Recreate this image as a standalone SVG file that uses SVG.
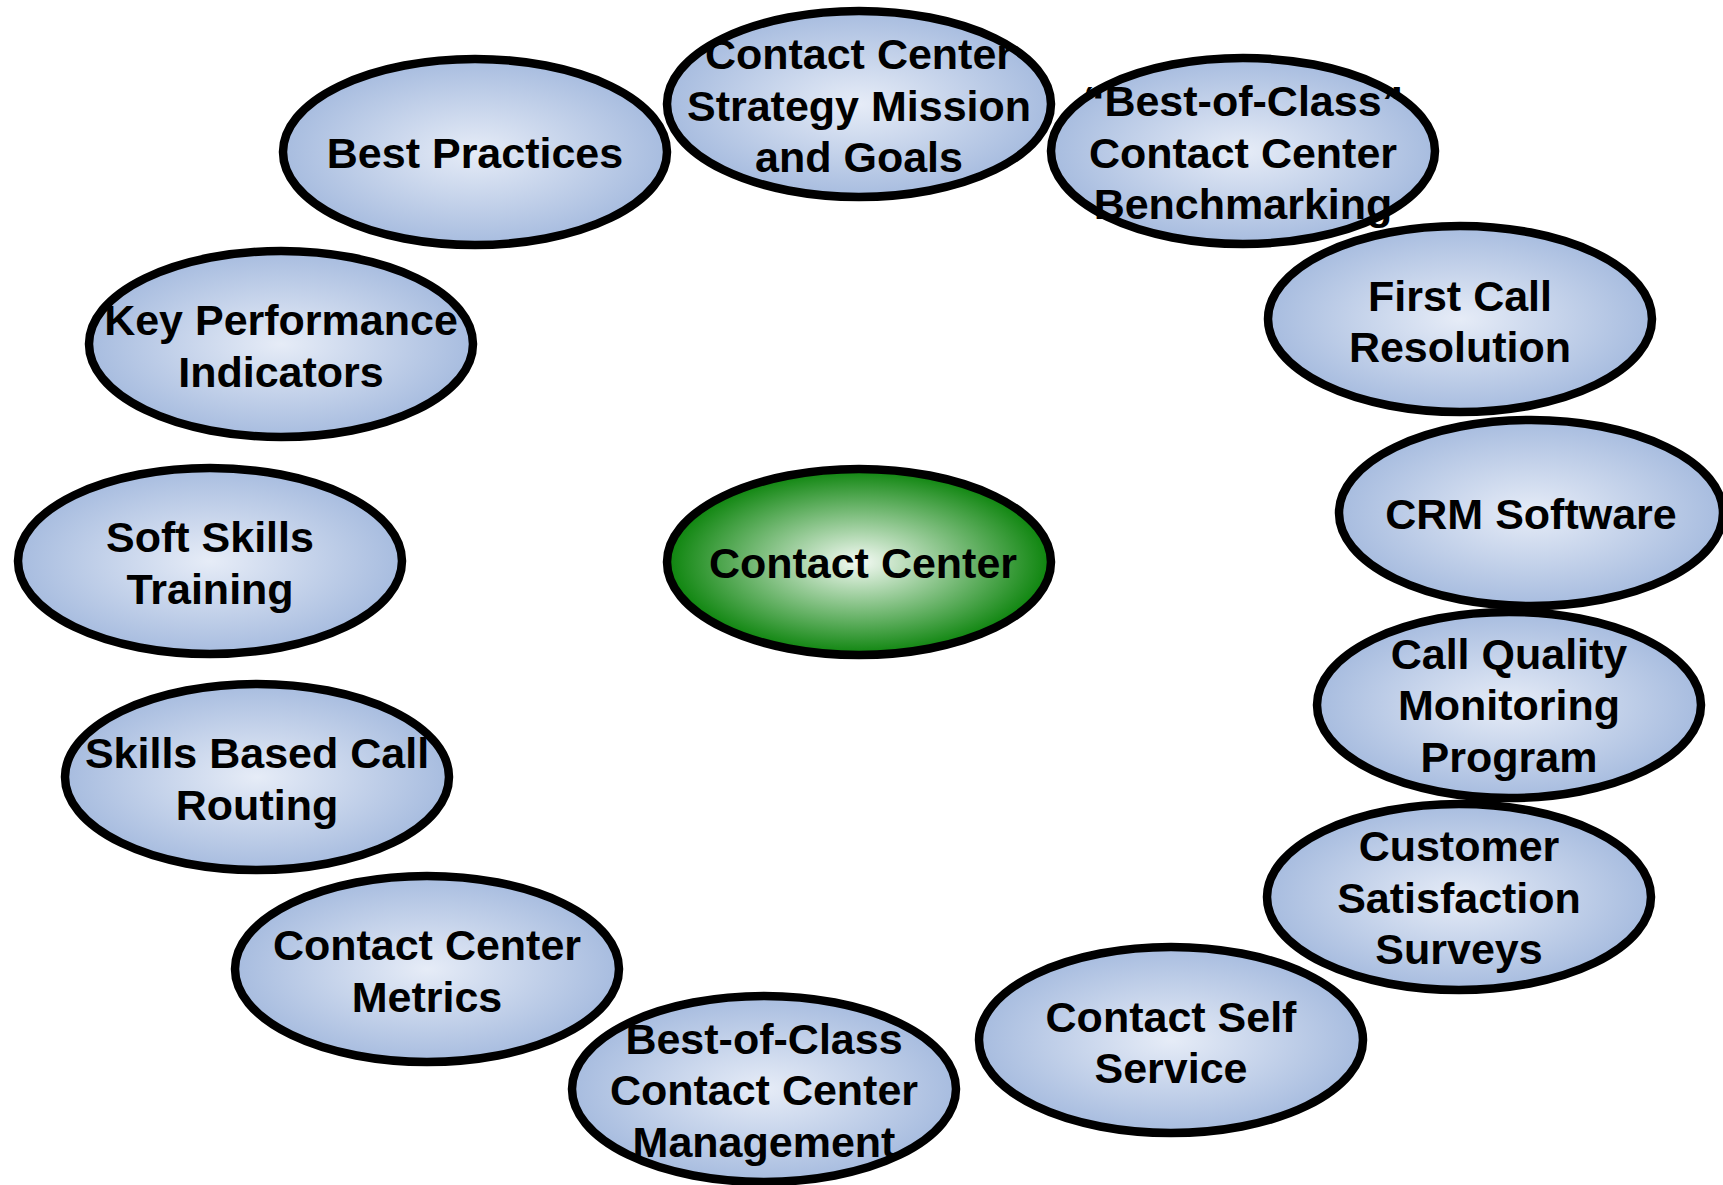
<svg xmlns="http://www.w3.org/2000/svg" width="1723" height="1185" viewBox="0 0 1723 1185">
<defs>
<radialGradient id="gBlue" cx="50%" cy="50%" r="50%">
<stop offset="0" stop-color="#e6ecf7"/>
<stop offset="1" stop-color="#a7bcdf"/>
</radialGradient>
<radialGradient id="gGreen" cx="50%" cy="50%" r="50%">
<stop offset="0" stop-color="#f4faf4"/>
<stop offset="1" stop-color="#0c840c"/>
</radialGradient>
<style>
.bf{fill:url(#gBlue);stroke:none}
.gf{fill:url(#gGreen);stroke:none}
.st{fill:none;stroke:#000;stroke-width:8.5}
text{font-family:"Liberation Sans",Arial,sans-serif;font-weight:bold;font-size:43px;fill:#000;text-anchor:middle}
</style>
</defs>
<rect width="1723" height="1185" fill="#fff"/>
<g id="connectors"/>

<g id="n-best-practices">
<ellipse class="bf" cx="475" cy="152" rx="192" ry="93"/>
<text x="475" y="168">Best Practices</text>
<ellipse class="st" cx="475" cy="152" rx="192" ry="93"/>
</g>

<g id="n-strategy">
<ellipse class="bf" cx="859" cy="104" rx="192" ry="93"/>
<text x="859" y="69">Contact Center</text>
<text x="859" y="121">Strategy Mission</text>
<text x="859" y="172">and Goals</text>
<ellipse class="st" cx="859" cy="104" rx="192" ry="93"/>
</g>

<g id="n-benchmarking">
<ellipse class="bf" cx="1243" cy="151" rx="192" ry="93"/>
<text x="1243" y="116">“Best-of-Class”</text>
<text x="1243" y="168">Contact Center</text>
<text x="1243" y="219">Benchmarking</text>
<ellipse class="st" cx="1243" cy="151" rx="192" ry="93"/>
</g>

<g id="n-first-call">
<ellipse class="bf" cx="1460" cy="319" rx="192" ry="93"/>
<text x="1460" y="311">First Call</text>
<text x="1460" y="362">Resolution</text>
<ellipse class="st" cx="1460" cy="319" rx="192" ry="93"/>
</g>

<g id="n-crm">
<ellipse class="bf" cx="1531" cy="513" rx="192" ry="93"/>
<text x="1531" y="529">CRM Software</text>
<ellipse class="st" cx="1531" cy="513" rx="192" ry="93"/>
</g>

<g id="n-call-quality">
<ellipse class="bf" cx="1509" cy="705" rx="192" ry="93"/>
<text x="1509" y="669">Call Quality</text>
<text x="1509" y="720">Monitoring</text>
<text x="1509" y="772">Program</text>
<ellipse class="st" cx="1509" cy="705" rx="192" ry="93"/>
</g>

<g id="n-customer-sat">
<ellipse class="bf" cx="1459" cy="897" rx="192" ry="93"/>
<text x="1459" y="861">Customer</text>
<text x="1459" y="913">Satisfaction</text>
<text x="1459" y="964">Surveys</text>
<ellipse class="st" cx="1459" cy="897" rx="192" ry="93"/>
</g>

<g id="n-self-service">
<ellipse class="bf" cx="1171" cy="1040" rx="192" ry="93"/>
<text x="1171" y="1032">Contact Self</text>
<text x="1171" y="1083">Service</text>
<ellipse class="st" cx="1171" cy="1040" rx="192" ry="93"/>
</g>

<g id="n-management">
<ellipse class="bf" cx="764" cy="1089" rx="192" ry="93"/>
<text x="764" y="1054">Best-of-Class</text>
<text x="764" y="1105">Contact Center</text>
<text x="764" y="1157">Management</text>
<ellipse class="st" cx="764" cy="1089" rx="192" ry="93"/>
</g>

<g id="n-metrics">
<ellipse class="bf" cx="427" cy="969" rx="192" ry="93"/>
<text x="427" y="960">Contact Center</text>
<text x="427" y="1012">Metrics</text>
<ellipse class="st" cx="427" cy="969" rx="192" ry="93"/>
</g>

<g id="n-skills-routing">
<ellipse class="bf" cx="257" cy="777" rx="192" ry="93"/>
<text x="257" y="768">Skills Based Call</text>
<text x="257" y="820">Routing</text>
<ellipse class="st" cx="257" cy="777" rx="192" ry="93"/>
</g>

<g id="n-soft-skills">
<ellipse class="bf" cx="210" cy="561" rx="192" ry="93"/>
<text x="210" y="552">Soft Skills</text>
<text x="210" y="604">Training</text>
<ellipse class="st" cx="210" cy="561" rx="192" ry="93"/>
</g>

<g id="n-kpi">
<ellipse class="bf" cx="281" cy="344" rx="192" ry="93"/>
<text x="281" y="335">Key Performance</text>
<text x="281" y="387">Indicators</text>
<ellipse class="st" cx="281" cy="344" rx="192" ry="93"/>
</g>

<g id="n-contact-center">
<ellipse class="gf" cx="859" cy="562" rx="192" ry="93"/>
<text x="863" y="578">Contact Center</text>
<ellipse class="st" cx="859" cy="562" rx="192" ry="93"/>
</g>
</svg>
